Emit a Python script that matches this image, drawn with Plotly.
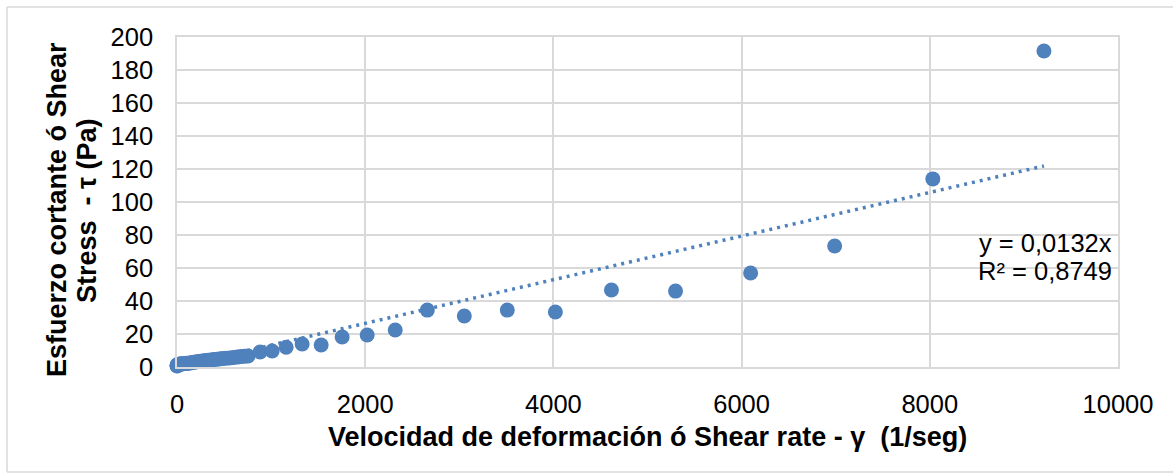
import plotly.graph_objects as go

# Shear rate (1/seg)
shear_rate = [0.5, 1, 2, 3, 5, 8, 12, 16, 20, 30, 40, 50, 60, 70, 85, 100, 120, 140, 160, 180,
              200, 225, 250, 275, 300, 330, 360, 390, 420, 450, 480, 520, 560, 600, 640, 680,
              720, 755, 883, 1011, 1160, 1330, 1532, 1755, 2021, 2319, 2660, 3053, 3510, 4021,
              4617, 5298, 6096, 6989, 8032, 9213]
# Shear stress (Pa)
shear_stress = [0.6, 0.8, 1.0, 1.1, 1.3, 1.4, 1.5, 1.6, 1.6, 1.7, 1.8, 1.9, 2.0, 2.0, 2.1, 2.2, 2.3, 2.5, 2.7, 2.9,
                3.1, 3.3, 3.5, 3.7, 3.9, 4.1, 4.3, 4.5, 4.7, 4.9, 5.1, 5.3, 5.5, 5.8, 6.0, 6.3,
                6.5, 6.7, 9.1, 9.7, 12.0, 13.9, 13.3, 18.2, 19.4, 22.4, 34.5, 30.9, 34.5, 33.3,
                46.7, 46.0, 57.0, 73.3, 114.0, 191.5]

x_ticks = [0, 2000, 4000, 6000, 8000, 10000]
y_ticks = [0, 20, 40, 60, 80, 100, 120, 140, 160, 180, 200]
r2_text = "0,8749"

# linear trend through origin (least squares)
sxy = sum(a * b for a, b in zip(shear_rate, shear_stress))
sxx = sum(a * a for a in shear_rate)
slope = sxy / sxx
x_max = max(shear_rate)

BLUE = "#4F81BD"
GRID = "#D9D9D9"
FONT = "Liberation Sans, Arial, sans-serif"

fig = go.Figure()
fig.add_trace(go.Scatter(
    x=[0, x_max], y=[0, slope * x_max], mode="lines",
    line=dict(color=BLUE, width=3.5, dash="3px,5px"),
    hoverinfo="skip", showlegend=False, cliponaxis=False))
fig.add_trace(go.Scatter(
    x=shear_rate, y=shear_stress, mode="markers",
    marker=dict(color=BLUE, size=15, line=dict(width=0)),
    showlegend=False, cliponaxis=False))

# plot area: x 177..1118, y 37..367
L, R, T, B = 177, 1118, 37, 367
W, H = R - L, B - T

def px(xp):
    return (xp - L) / W

def py(yp):
    return (B - yp) / H

def ann(text, x, y, xanchor="center", angle=0, size=27, bold=True):
    return dict(text=("<b>%s</b>" % text) if bold else text,
                xref="paper", yref="paper", x=px(x), y=py(y),
                xanchor=xanchor, yanchor="middle", textangle=angle,
                showarrow=False, font=dict(size=size, family=FONT, color="black"))

eq_text = "y = " + f"{slope:.4f}".replace(".", ",") + "x"

fig.update_layout(
    width=1173, height=476,
    margin=dict(l=L, r=1173 - R, t=T, b=476 - B),
    paper_bgcolor="white", plot_bgcolor="white",
    font=dict(family=FONT, size=25, color="black"),
    xaxis=dict(range=[0, 10000], tickvals=x_ticks, ticktext=[str(v) for v in x_ticks],
               showgrid=True, gridcolor=GRID, gridwidth=1.5,
               showline=True, linecolor=GRID, linewidth=1.5, mirror=True,
               zeroline=False, ticks="", ticklabelstandoff=14,
               tickfont=dict(size=25.5, family=FONT, color="black")),
    yaxis=dict(range=[0, 200], tickvals=y_ticks, ticktext=[str(v) for v in y_ticks],
               showgrid=True, gridcolor=GRID, gridwidth=1.5,
               showline=True, linecolor=GRID, linewidth=1.5, mirror=True,
               zeroline=False, ticks="", ticklabelstandoff=17,
               tickfont=dict(size=25.5, family=FONT, color="black")),
    shapes=[
        dict(type="line", xref="paper", yref="paper", x0=px(7), x1=px(1180), y0=py(7), y1=py(7),
             line=dict(color=GRID, width=1.5)),
        dict(type="line", xref="paper", yref="paper", x0=px(7), x1=px(7), y0=py(7), y1=py(472),
             line=dict(color=GRID, width=1.5)),
        dict(type="line", xref="paper", yref="paper", x0=px(7), x1=px(1180), y0=py(472), y1=py(472),
             line=dict(color=GRID, width=1.5)),
    ],
    annotations=[
        ann("Velocidad de deformación ó Shear rate - γ  (1/seg)", 647, 437),
        ann("Esfuerzo cortante ó Shear", 57, 209, angle=-90),
        ann("Stress  - τ (Pa)", 87, 211, angle=-90),
        ann(eq_text, 1114, 243, xanchor="right", size=25.5, bold=False),
        ann("R² = " + r2_text, 1114, 271, xanchor="right", size=25.5, bold=False),
    ],
)

fig.write_html("out.html")
